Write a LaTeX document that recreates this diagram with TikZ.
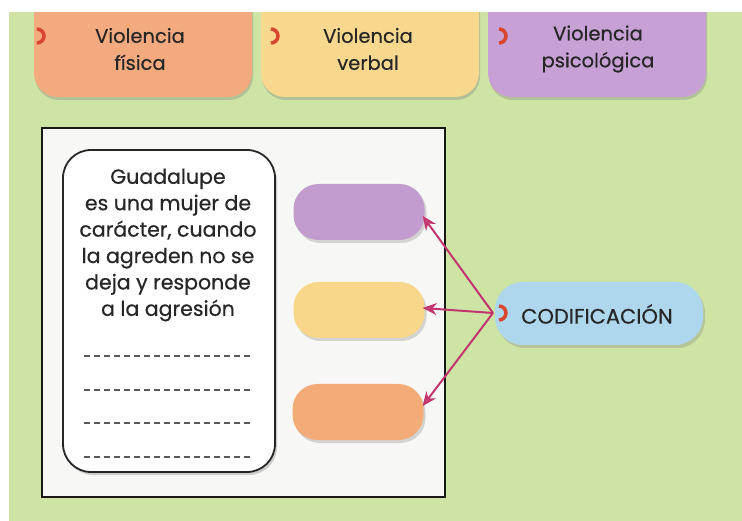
\documentclass[tikz,border=0pt]{standalone}
\usepackage{fontspec}
\setmainfont{Poppins}[FakeBold=0.45]
\usetikzlibrary{shadows,arrows.meta}
\definecolor{bggreen}{HTML}{CDE4A4}
\definecolor{orA}{HTML}{F2AA7E}
\definecolor{yeA}{HTML}{F8D88E}
\definecolor{puA}{HTML}{C7A1D5}
\definecolor{orB}{HTML}{F3AB78}
\definecolor{yeB}{HTML}{F9D78A}
\definecolor{puB}{HTML}{C29BCF}
\definecolor{blA}{HTML}{AED7EE}
\definecolor{txt}{HTML}{262626}
\definecolor{mark}{HTML}{D9452F}
\definecolor{arr}{HTML}{C2356F}
\definecolor{panel}{HTML}{F7F8F5}
\begin{document}
\begin{tikzpicture}[x=1pt,y=-1pt,
  topbox/.style={rounded corners=24pt, minimum width=218pt, minimum height=110pt, inner sep=0pt,
     drop shadow={shadow xshift=1pt, shadow yshift=-3pt, opacity=.35}},
  smallbox/.style={rounded corners=25pt, minimum width=131pt, minimum height=56pt, inner sep=0pt,
     drop shadow={shadow xshift=2pt, shadow yshift=-3pt, opacity=.3}},
  toptext/.style={font=\fontsize{19.5}{27}\selectfont, text=txt, align=center},
  bodytext/.style={font=\fontsize{20.5}{26.4}\selectfont, text=txt, align=center},
  conn/.style={draw=arr, line width=2pt, -{Stealth[length=14pt, width=12pt, fill=arr!75!white]}},
  dashline/.style={draw=black!65, line width=1.8pt, dash pattern=on 6pt off 4pt},
  crescent/.style={draw=mark, line width=3.5pt},
]
\useasboundingbox (0,0) rectangle (742,521);
% background
\fill[bggreen] (0,0) rectangle (742,521);

% top category boxes
\node[topbox, fill=orA] (fis) at (143,42) {};
\node[topbox, fill=yeA] (ver) at (370,42) {};
\node[topbox, fill=puA] (psi) at (597,42) {};
\node[toptext] (fist) at (140,49) {Violencia\\física};
\node[toptext] (vert) at (368,49) {Violencia\\verbal};
\node[toptext] (psit) at (598,49) {Violencia\\psicológica};
\draw[crescent] (37,29) arc (-90:90:7);
\draw[crescent] (271,29) arc (-90:90:7);
\draw[crescent] (499,29) arc (-90:90:7);

% page edges
\fill[white] (0,0) rectangle (742,12);
\fill[white] (0,0) rectangle (9,521);

% panel
\draw[fill=panel, draw=black!90, line width=1.6pt] (42,128) rectangle (445,497);

% text box
\node[draw=black!85, line width=1.8pt, fill=white, rounded corners=28pt,
      minimum width=212pt, minimum height=322pt, inner sep=0pt,
      drop shadow={shadow xshift=2pt, shadow yshift=-3pt, opacity=.35}] (caso) at (169,311) {};
\node[bodytext] (casot) at (168,245) {Guadalupe\\es una mujer de\\carácter, cuando\\la agreden no se\\deja y responde\\a la agresión};
\coordinate (d1a) at (84,356); \coordinate (d1b) at (253,356);
\coordinate (d2a) at (84,390); \coordinate (d2b) at (253,390);
\coordinate (d3a) at (84,423); \coordinate (d3b) at (253,423);
\coordinate (d4a) at (84,457); \coordinate (d4b) at (253,457);
\draw[dashline] (d1a) -- (d1b);
\draw[dashline] (d2a) -- (d2b);
\draw[dashline] (d3a) -- (d3b);
\draw[dashline] (d4a) -- (d4b);

% answer boxes
\node[smallbox, fill=puB] (bpu) at (359,212) {};
\node[smallbox, fill=yeB] (bye) at (359,310) {};
\node[smallbox, fill=orB] (bor) at (358,412) {};

% codification box
\node[rounded corners=28pt, fill=blA, minimum width=208pt, minimum height=63pt, inner sep=0pt,
      drop shadow={shadow xshift=2pt, shadow yshift=-3pt, opacity=.3}] (cod) at (599,313.5) {};
\node[font=\fontsize{21}{24}\selectfont, text=txt] (codt) at (597,314) {CODIFICACIÓN};
\draw[crescent] (499,306) arc (-90:90:7);
\coordinate (src) at (493,313);

% connectors
\draw[conn] (src) -- ([xshift=-2pt,yshift=-4pt]bpu.east);
\draw[conn] (src) -- ([xshift=-2pt,yshift=2pt]bye.east);
\draw[conn] (src) -- ([xshift=-1pt,yshift=6pt]bor.east);
\end{tikzpicture}
\end{document}
